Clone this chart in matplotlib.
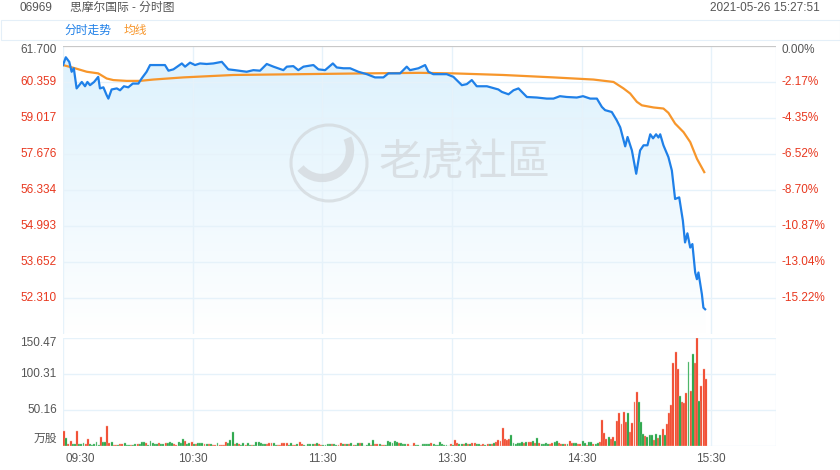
import numpy as np
import matplotlib
matplotlib.use('Agg')
import matplotlib.pyplot as plt
from matplotlib.patches import Polygon, Circle, Arc, Rectangle
from matplotlib.colors import LinearSegmentedColormap

plt.rcParams['font.family'] = ['Liberation Sans', 'Noto Sans CJK SC', 'DejaVu Sans']

# ---------------- data ----------------
stock_code = "06969"
title_text = "思摩尔国际 - 分时图"
timestamp = "2021-05-26 15:27:51"
legend_labels = ["分时走势", "均线"]
watermark = "老虎社區"

price_ticks = [61.700, 60.359, 59.017, 57.676, 56.334, 54.993, 53.652, 52.310]
pct_labels = ["0.00%", "-2.17%", "-4.35%", "-6.52%", "-8.70%", "-10.87%", "-13.04%", "-15.22%"]
vol_ticks = [50.16, 100.31, 150.47]
vol_tick_labels = ["50.16", "100.31", "150.47"]
vol_unit = "万股"
time_labels = ["09:30", "10:30", "11:30", "13:30", "14:30", "15:30"]
time_minutes = [0, 60, 120, 180, 240, 300]
session_minutes = 330

# price line (trading minute, price)
price_min = [0, 1.3, 2.5, 2.9, 4, 5, 6.3, 8.7, 10.2, 11.3, 12.5, 14.4, 16.3, 17.1, 18.7,
             20.2, 21, 22.5, 24.9, 26.4, 28.2, 30.2, 32.3, 34.9, 36.4, 38.7, 40.3, 43.4,
             47.2, 48.8, 51.1, 55, 56.5, 58.8, 61.1, 63.4, 66.5, 69.6, 73.5, 76.5, 79.6,
             85, 88.1, 91.2, 94.3, 97.4, 102, 103.6, 106.6, 108.9, 111.3, 115.9, 118.2,
             121.3, 124.9, 126.7, 129.8, 132.9, 136.7, 140.6, 144.4, 148.3, 150.6, 152.9,
             156, 159.1, 160.6, 164.5, 167.6, 169.1, 171.4, 177.6, 180.7, 184.6, 186.9,
             189.2, 191.5, 196.2, 201.5, 203.1, 206.2, 208.5, 210.8, 212.5, 214.7, 219.3,
             223.9, 227, 230, 233.2, 237.8, 240.7, 244, 247.1, 249.4, 250.9, 254, 256.3,
             257.9, 260.2, 261.3, 263.3, 265.3, 267.1, 268.7, 270.5, 271.8, 273.1, 274.5,
             275.6, 276.4, 277.9, 280.2, 281.8, 283.3, 285.2, 286.9, 287.9, 289, 290.3,
             291.3, 292.6, 293.4, 294.1, 295.7, 296.4, 297.2]
price_val = [60.99, 61.28, 61.15, 61.11, 60.74, 60.87, 60.12, 60.36, 60.20, 60.36, 60.24,
             60.36, 60.55, 60.12, 60.16, 59.87, 59.74, 60.08, 60.12, 60.05, 60.20, 60.16,
             60.30, 60.30, 60.49, 60.74, 60.99, 60.99, 60.99, 60.78, 60.83, 61.05, 60.93,
             61.08, 60.99, 61.05, 61.03, 61.05, 61.11, 60.83, 60.80, 60.74, 60.80, 60.78,
             61.03, 60.93, 60.80, 60.93, 60.95, 60.80, 60.93, 60.99, 60.83, 60.80, 61.05,
             60.90, 60.87, 60.87, 60.74, 60.65, 60.53, 60.53, 60.68, 60.68, 60.68, 60.93,
             60.80, 60.87, 60.99, 60.74, 60.65, 60.65, 60.55, 60.24, 60.28, 60.43, 60.20,
             60.20, 60.08, 59.99, 59.90, 60.05, 60.12, 59.98, 59.80, 59.78, 59.74, 59.74,
             59.83, 59.80, 59.78, 59.83, 59.74, 59.74, 59.43, 59.31, 59.24, 58.93, 58.67,
             57.96, 58.31, 57.81, 56.94, 57.81, 58.00, 58.00, 58.41, 58.26, 58.41, 58.29,
             58.41, 58.00, 57.56, 57.06, 56.00, 56.06, 55.19, 54.38, 54.72, 54.19, 54.32,
             53.26, 53.01, 53.26, 52.45, 51.95, 51.89]

# average price line
avg_min = [0, 5.6, 11, 16.3, 20.2, 23.3, 29.5, 35.6, 41.8, 55.7, 78.8, 109.7, 140.6, 165.3,
           180.7, 203.8, 227, 245.5, 254.8, 259.4, 262.5, 265.6, 267.9, 273.3, 277.9,
           280.2, 283.3, 287.2, 290.3, 293.4, 296.8]
avg_val = [60.99, 60.87, 60.74, 60.68, 60.49, 60.43, 60.40, 60.40, 60.45, 60.53, 60.62,
           60.65, 60.68, 60.70, 60.68, 60.62, 60.53, 60.45, 60.36, 60.12, 59.93, 59.62,
           59.49, 59.41, 59.37, 59.21, 58.81, 58.49, 58.12, 57.50, 57.00]

# per-minute volume (万股) and direction (R = up, G = down)
vol_values = [
    20.4, 11.6, 3, 6.5, 3, 3, 20.4, 3, 3, 4.5,
    3, 9.3, 3, 2, 3, 5, 2, 12, 5, 5,
    28.3, 4, 5, 1.5, 2, 1.5, 2.5, 2.5, 4, 1.5,
    1.5, 1.5, 1.5, 3, 2.5, 3, 5, 6, 4.5, 2,
    6.5, 4.2, 2.8, 3.2, 3.7, 3.2, 2.8, 3.7, 3.7, 5.1,
    4.6, 2.8, 1.9, 5.6, 4.6, 9.7, 7, 2.3, 3.7, 5.1,
    3.2, 2.8, 4.2, 3.7, 4.2, 2.8, 2.3, 2.3, 2.8, 1.9,
    1.4, 4.2, 1.9, 1.9, 0.9, 5.6, 4.2, 8.4, 19.5, 2.8,
    4.2, 2.8, 1.9, 3.7, 1.9, 3.7, 1.4, 1.4, 1.4, 5.1,
    5.1, 4.6, 3.2, 3.2, 2.8, 4.2, 3.7, 4.2, 1.4, 1.4,
    1.9, 4.2, 3.7, 4.2, 1.9, 4.2, 1.9, 1.9, 2.8, 6,
    3.2, 1.9, 0.5, 2.3, 2.3, 2.8, 2.8, 3.7, 2.8, 1.4,
    0.9, 1.4, 3.2, 3.2, 2.3, 3.2, 0.9, 1.9, 3.7, 2.3,
    2.8, 2.8, 2.3, 3.7, 0.9, 1.4, 3.7, 4.2, 4.2, 0.5,
    0.9, 4.2, 1.4, 7.9, 2.8, 2.3, 2.3, 1.9, 1.9, 1.4,
    6.5, 5.6, 3.7, 6.5, 5.1, 4.2, 3.7, 2.8, 2.3, 2.3,
    0.5, 0.5, 3.7, 1.9, 1.4, 0.3, 2.8, 2.8, 2.3, 2.8,
    3.7, 2.3, 1.4, 0.9, 5.6, 2.8, 1.4, 0.9, 0.5, 2.3,
    1.9, 8.4, 3.7, 2.3, 3.2, 2.3, 3.7, 2.8, 3.2, 4.2,
    4.6, 3.2, 2.3, 1.9, 2.3, 1.4, 2.3, 3.2, 2.3, 3.7,
    5.1, 8.4, 6.5, 24.6, 9.7, 8.4, 10.2, 15.3, 3.7, 2.8,
    3.7, 4.6, 6, 3.7, 5.6, 5.1, 5.1, 7.4, 4.6, 10.7,
    4.6, 2.8, 2.8, 4.6, 2.8, 2.8, 3.7, 5.1, 6.5, 3.7,
    2.8, 2.3, 2.3, 2.8, 7, 4.6, 3.7, 3.7, 2.8, 2.3,
    7, 3.7, 1.9, 5,
    5, 2.8, 2.8, 3.7, 5, 36.2, 17.6, 9.3, 12, 9.3,
    12.5, 7, 34.8, 46, 30.6, 47.4, 33.4, 46, 19.5, 32,
    61.7, 75.2, 61.7, 33, 16.2, 14.4, 12, 16, 14.9, 8.4,
    17.2, 11.6, 15.3, 23.2, 15.3, 30.6, 45.5, 56.6, 115.2, 130.5,
    106.8, 69.7, 61.8, 60.4, 73.4, 116.6, 76.6, 128.2, 116.1, 150,
    63.2, 84, 106.8, 93.3,
]
vol_dir = (
    "RGRRGGRGGG" "RRGGGGGRGG" "RRGRRGRRGG" "GRGGRGGGRG"
    "GGGGRGGRGG" "GRRGGGRGGR" "GRGGGRGRGR" "RGRRRRGGGR"
    "GRGGRGGRGG" "GGGGRRRGGR" "RRRRGGRRGR" "RGRGGGRGRR"
    "GGGGRGGRRG" "RGRGRGGRGG" "GGRGRRGRRG" "GGGGGRGGGR"
    "RRRGGRGGGG" "RGGGGGGGGR" "GRRGGRGRGR" "RGGRRGRGRG"
    "RRRRRRRGGG" "GGGRGRRGRG" "RGGGGRRGGR" "RGRGRRGGRR"
    "GGRG"
    "GRGGRRRRGR" "RGRRRRRGRR" "RRGGGRGGGR" "GRGRGRRRRR"
    "RGRRRGRGRR" "GRRR"
)

# ---------------- colours ----------------
BLUE = "#1f80e8"
ORANGE = "#f7962b"
RED_TXT = "#e8381f"
GRAY_TXT = "#555555"
GRID = "#e6f2fa"
BAR_RED = "#f03a1c"
BAR_RED_EDGE = "#f7b0a3"
BAR_GREEN = "#169c38"
BAR_GREEN_EDGE = "#9fdcb0"

W, H = 840, 470
fig = plt.figure(figsize=(W / 100, H / 100), dpi=100)
fig.patch.set_facecolor("white")

def frac(x0, y0, x1, y1):
    return [x0 / W, 1 - y1 / H, (x1 - x0) / W, (y1 - y0) / H]

step = (price_ticks[0] - price_ticks[-1]) / (len(price_ticks) - 1)
ybot = price_ticks[-1] - step
ytop = price_ticks[0]

# ---------------- price panel ----------------
ax = fig.add_axes(frac(63, 46, 776, 334))
ax.set_xlim(0, session_minutes)
ax.set_ylim(ybot, ytop)
for s in ax.spines.values():
    s.set_visible(False)
ax.set_xticks([])
ax.set_yticks([])

for v in price_ticks[1:]:
    ax.axhline(v, color=GRID, lw=1.0, zorder=2)
for m in time_minutes[1:] + [session_minutes]:
    ax.axvline(m, color=GRID, lw=1.0, zorder=2)
ax.axvline(0, color=GRID, lw=1.0, zorder=2)

# gradient fill under price line
verts = [(price_min[0], ybot)] + list(zip(price_min, price_val)) + [(price_min[-1], ybot)]
poly = Polygon(verts, closed=True, facecolor="none", edgecolor="none")
ax.add_patch(poly)
cmap = LinearSegmentedColormap.from_list("g", ["#ffffff", "#dcf1fd"])
grad = np.linspace(0, 1, 256).reshape(-1, 1)
im = ax.imshow(grad, extent=[0, session_minutes, ybot, ytop], origin="lower",
               aspect="auto", cmap=cmap, zorder=1, interpolation="bilinear")
im.set_clip_path(poly)

ax.axhline(price_ticks[0], color="#c8c8c8", lw=1.6, zorder=3)
ax.plot(price_min, price_val, color=BLUE, lw=1.6, zorder=5, solid_joinstyle="round")
ax.plot(avg_min, avg_val, color=ORANGE, lw=1.6, zorder=4, solid_joinstyle="round")

for i, (v, pl) in enumerate(zip(price_ticks, pct_labels)):
    c = GRAY_TXT if i == 0 else RED_TXT
    dy = -3 if i == 0 else 0
    ax.annotate(f"{v:.3f}", xy=(0, v), xycoords=("axes fraction", "data"),
                xytext=(-4.5, dy), textcoords="offset points", ha="right", va="center",
                fontsize=8.5, color=c, annotation_clip=False)
    ax.annotate(pl, xy=(1, v), xycoords=("axes fraction", "data"),
                xytext=(4, dy), textcoords="offset points", ha="left", va="center",
                fontsize=8.5, color=c, annotation_clip=False)

# ---------------- volume panel ----------------
axv = fig.add_axes(frac(63, 338, 776, 446))
axv.set_xlim(0, session_minutes)
axv.set_ylim(0, vol_ticks[-1])
for s in axv.spines.values():
    s.set_visible(False)
axv.set_xticks([])
axv.set_yticks([])
for v in [0] + vol_ticks:
    axv.axhline(v, color=GRID, lw=1.0, zorder=1)
for m in [0] + time_minutes[1:] + [session_minutes]:
    axv.axvline(m, color=GRID, lw=1.0, zorder=1)

mins = np.arange(len(vol_values)) + 0.5
is_up = np.array([d == "R" for d in vol_dir])
vals = np.array(vol_values)
axv.bar(mins[is_up], vals[is_up], width=0.9, color=BAR_RED, edgecolor=BAR_RED_EDGE,
        linewidth=0.3, zorder=3)
axv.bar(mins[~is_up], vals[~is_up], width=0.9, color=BAR_GREEN, edgecolor=BAR_GREEN_EDGE,
        linewidth=0.3, zorder=3)

for i, (v, lab) in enumerate(zip(vol_ticks, vol_tick_labels)):
    dy = -3.5 if i == len(vol_ticks) - 1 else 0
    axv.annotate(lab, xy=(0, v), xycoords=("axes fraction", "data"),
                 xytext=(-4.5, dy), textcoords="offset points", ha="right", va="center",
                 fontsize=8.5, color=GRAY_TXT, annotation_clip=False)
axv.annotate(vol_unit, xy=(0, 0), xycoords=("axes fraction", "data"),
             xytext=(-4.5, 0.5), textcoords="offset points", ha="right", va="bottom",
             fontsize=8.5, color=GRAY_TXT, annotation_clip=False)

for m, lab in zip(time_minutes, time_labels):
    axv.annotate(lab, xy=(m, 0), xycoords=("data", "axes fraction"),
                 xytext=(1.5 if m == 0 else 0, -5), textcoords="offset points",
                 ha="left" if m == 0 else "center", va="top",
                 fontsize=8.5, color=GRAY_TXT, annotation_clip=False)

# ---------------- header / overlay ----------------
ov = fig.add_axes([0, 0, 1, 1])
ov.set_xlim(0, W)
ov.set_ylim(H, 0)
ov.axis("off")
ov.patch.set_alpha(0)

ov.text(20, 8, stock_code, fontsize=8.5, color=GRAY_TXT, va="center", ha="left")
ov.text(70, 8, title_text, fontsize=8.5, color=GRAY_TXT, va="center", ha="left")
ov.text(820, 8, timestamp, fontsize=8.5, color=GRAY_TXT, va="center", ha="right")
ov.add_patch(Rectangle((0.5, 20), W - 1, 19.5, facecolor="none", edgecolor="#e4eff8", lw=0.8))
ov.text(64, 30.5, legend_labels[0], fontsize=8.5, color=BLUE, va="center", ha="left")
ov.text(124, 30.5, legend_labels[1], fontsize=8.5, color=ORANGE, va="center", ha="left")

# watermark
wm_col = "#d3d8dc"
ov.add_patch(Circle((329, 163), 38, facecolor="none", edgecolor=wm_col, lw=2.2, alpha=0.75))
ov.add_patch(Arc((322, 150), 56, 56, theta1=-25, theta2=140, color=wm_col, lw=6, alpha=0.75))
ov.text(465, 164, watermark, fontsize=31, color=wm_col, alpha=0.75, va="center", ha="center")

fig.savefig("out.png", dpi=100, facecolor="white")
